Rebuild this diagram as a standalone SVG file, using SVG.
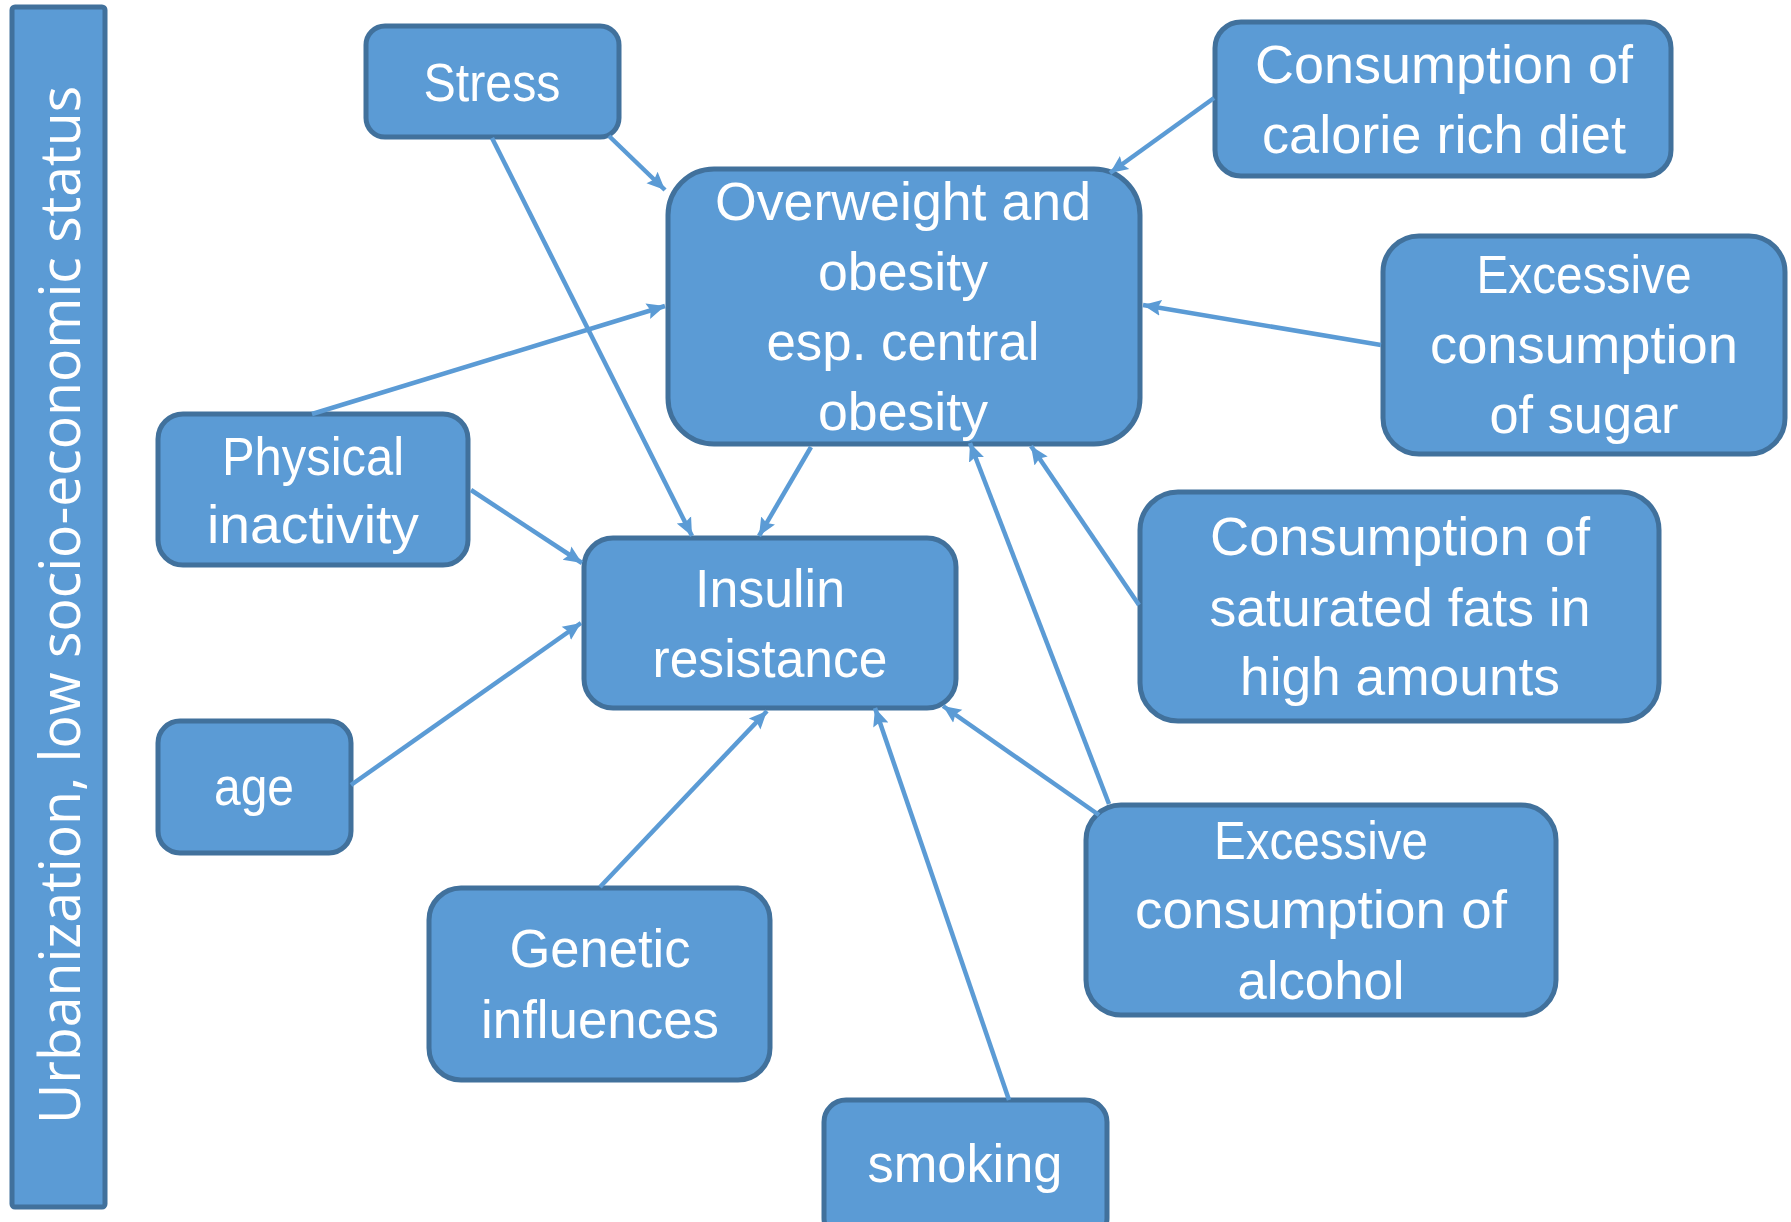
<svg xmlns="http://www.w3.org/2000/svg" width="1791" height="1222" viewBox="0 0 1791 1222">
  <style>
    .box { fill: #5B9BD5; stroke: #41719C; stroke-width: 5; }
    .lbl { font-family: "Liberation Sans", Arial, sans-serif; font-size: 53px; fill: #FFFFFF; text-anchor: middle; }
    .side { font-family: "Open Sans", "Liberation Sans", sans-serif; font-size: 57px; fill: #FFFFFF; }
    .edge { stroke: #5B9BD5; stroke-width: 4.5; fill: none; marker-end: url(#arrow); }
  </style>
  <defs>
    <marker id="arrow" markerUnits="userSpaceOnUse" markerWidth="20" markerHeight="18" refX="18" refY="9" orient="auto">
      <path d="M0,1 L18,9 L0,17 L3,9 Z" fill="#5B9BD5"/>
    </marker>
  </defs>

  <rect width="1791" height="1222" fill="#FFFFFF"/>

  <!-- side banner -->
  <g id="banner">
    <rect class="box" x="12" y="7" width="93" height="1200" rx="3"/>
    <text class="side" transform="translate(80,1124) rotate(-90)" textLength="1038" lengthAdjust="spacingAndGlyphs">Urbanization, low socio-economic status</text>
  </g>

  <g id="stress">
    <rect class="box" x="366" y="26" width="253" height="111" rx="19"/>
    <text class="lbl" x="492" y="101" textLength="137" lengthAdjust="spacingAndGlyphs">Stress</text>
  </g>

  <g id="obesity">
    <rect class="box" x="668" y="169" width="472" height="275" rx="46"/>
    <text class="lbl" x="903" y="220" textLength="376" lengthAdjust="spacingAndGlyphs">Overweight and</text>
    <text class="lbl" x="903" y="290" textLength="170" lengthAdjust="spacingAndGlyphs">obesity</text>
    <text class="lbl" x="903" y="360" textLength="273" lengthAdjust="spacingAndGlyphs">esp. central</text>
    <text class="lbl" x="903" y="430" textLength="170" lengthAdjust="spacingAndGlyphs">obesity</text>
  </g>

  <g id="calorie">
    <rect class="box" x="1215" y="22" width="456" height="154" rx="26"/>
    <text class="lbl" x="1444" y="83" textLength="378" lengthAdjust="spacingAndGlyphs">Consumption of</text>
    <text class="lbl" x="1444" y="153" textLength="364" lengthAdjust="spacingAndGlyphs">calorie rich diet</text>
  </g>

  <g id="sugar">
    <rect class="box" x="1383" y="236" width="402" height="218" rx="36"/>
    <text class="lbl" x="1584" y="293" textLength="215" lengthAdjust="spacingAndGlyphs">Excessive</text>
    <text class="lbl" x="1584" y="363" textLength="308" lengthAdjust="spacingAndGlyphs">consumption</text>
    <text class="lbl" x="1584" y="433" textLength="189" lengthAdjust="spacingAndGlyphs">of sugar</text>
  </g>

  <g id="inactivity">
    <rect class="box" x="158" y="414" width="310" height="151" rx="25"/>
    <text class="lbl" x="313" y="475" textLength="182" lengthAdjust="spacingAndGlyphs">Physical</text>
    <text class="lbl" x="313" y="543" textLength="212" lengthAdjust="spacingAndGlyphs">inactivity</text>
  </g>

  <g id="insulin">
    <rect class="box" x="584" y="538" width="372" height="170" rx="29"/>
    <text class="lbl" x="770" y="607" textLength="150" lengthAdjust="spacingAndGlyphs">Insulin</text>
    <text class="lbl" x="770" y="677" textLength="235" lengthAdjust="spacingAndGlyphs">resistance</text>
  </g>

  <g id="age">
    <rect class="box" x="158" y="721" width="193" height="132" rx="22"/>
    <text class="lbl" x="254" y="805" textLength="80" lengthAdjust="spacingAndGlyphs">age</text>
  </g>

  <g id="genetic">
    <rect class="box" x="429" y="888" width="341" height="192" rx="32"/>
    <text class="lbl" x="600" y="967" textLength="181" lengthAdjust="spacingAndGlyphs">Genetic</text>
    <text class="lbl" x="600" y="1038" textLength="238" lengthAdjust="spacingAndGlyphs">influences</text>
  </g>

  <g id="smoking">
    <rect class="box" x="824" y="1100" width="283" height="140" rx="22"/>
    <text class="lbl" x="965" y="1182" textLength="195" lengthAdjust="spacingAndGlyphs">smoking</text>
  </g>

  <g id="fats">
    <rect class="box" x="1140" y="492" width="519" height="229" rx="38"/>
    <text class="lbl" x="1400" y="555" textLength="380" lengthAdjust="spacingAndGlyphs">Consumption of</text>
    <text class="lbl" x="1400" y="626" textLength="381" lengthAdjust="spacingAndGlyphs">saturated fats in</text>
    <text class="lbl" x="1400" y="695" textLength="320" lengthAdjust="spacingAndGlyphs">high amounts</text>
  </g>

  <g id="alcohol">
    <rect class="box" x="1086" y="805" width="470" height="210" rx="35"/>
    <text class="lbl" x="1321" y="859" textLength="214" lengthAdjust="spacingAndGlyphs">Excessive</text>
    <text class="lbl" x="1321" y="928" textLength="372" lengthAdjust="spacingAndGlyphs">consumption of</text>
    <text class="lbl" x="1321" y="999" textLength="167" lengthAdjust="spacingAndGlyphs">alcohol</text>
  </g>

  <!-- arrows between factors -->
  <g id="connectors">
    <line class="edge" x1="609" y1="136" x2="665" y2="190"/>
    <line class="edge" x1="492" y1="138" x2="692" y2="536"/>
    <line class="edge" x1="1214" y1="98" x2="1110" y2="173"/>
    <line class="edge" x1="1381" y1="345" x2="1143" y2="305"/>
    <line class="edge" x1="312" y1="414" x2="665" y2="306"/>
    <line class="edge" x1="471" y1="490" x2="582" y2="563"/>
    <line class="edge" x1="811" y1="447" x2="759" y2="536"/>
    <line class="edge" x1="351" y1="785" x2="581" y2="623"/>
    <line class="edge" x1="600" y1="887" x2="767" y2="711"/>
    <line class="edge" x1="1009" y1="1100" x2="875" y2="708"/>
    <line class="edge" x1="1139" y1="605" x2="1031" y2="446"/>
    <line class="edge" x1="1109" y1="804" x2="970" y2="443"/>
    <line class="edge" x1="1099" y1="815" x2="943" y2="706"/>
  </g>
</svg>
